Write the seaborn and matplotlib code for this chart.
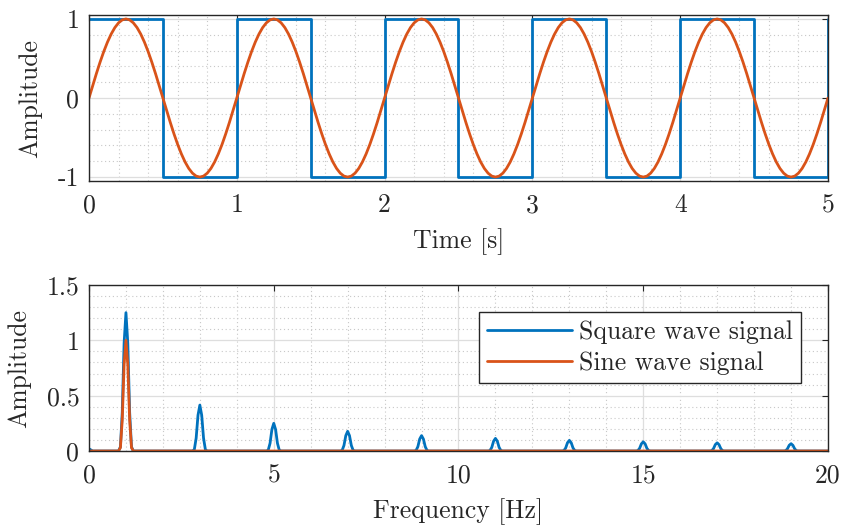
import numpy as np
import pandas as pd
import matplotlib
matplotlib.use("Agg")
import matplotlib.pyplot as plt
import seaborn as sns
from matplotlib.ticker import MultipleLocator

# ---------------- data ----------------
# square wave breakpoints (time in s, amplitude)
square_t = [0, 0.5, 0.5, 1, 1, 1.5, 1.5, 2, 2, 2.5, 2.5, 3, 3, 3.5, 3.5, 4, 4, 4.5, 4.5, 5, 5]
square_y = [1, 1, -1, -1, 1, 1, -1, -1, 1, 1, -1, -1, 1, 1, -1, -1, 1, 1, -1, -1, 1]

sample_step = 0.025
sine_period = [0.0, 0.156, 0.309, 0.454, 0.588, 0.707, 0.809, 0.891, 0.951, 0.988,
               1.0, 0.988, 0.951, 0.891, 0.809, 0.707, 0.588, 0.454, 0.309, 0.156,
               0.0, -0.156, -0.309, -0.454, -0.588, -0.707, -0.809, -0.891, -0.951, -0.988,
               -1.0, -0.988, -0.951, -0.891, -0.809, -0.707, -0.588, -0.454, -0.309, -0.156]
n_periods = 5

# spectrum peaks
peak_freqs = [1, 3, 5, 7, 9, 11, 13, 15, 17, 19]
square_amps = [1.25, 0.415, 0.25, 0.178, 0.139, 0.114, 0.096, 0.083, 0.074, 0.066]
sine_freqs = [1]
sine_amps = [1.0]
dc_bump = 0.02
# shape of one spectral peak (offset in Hz, relative height)
peak_offsets = [-0.2, -0.15, -0.1, -0.05, 0.0, 0.05, 0.1, 0.15, 0.2]
peak_shape = [0.0, 0.03, 0.28, 0.78, 1.0, 0.78, 0.28, 0.03, 0.0]

f_max = 20
time_ticks = [0, 1, 2, 3, 4, 5]
amp_ticks = [-1, 0, 1]
freq_ticks = [0, 5, 10, 15, 20]
spec_ticks = [0, 0.5, 1, 1.5]

blue = "#0072BD"
orange = "#D95319"

# ---------------- build series ----------------
sine_y = list(np.tile(sine_period, n_periods)) + [sine_period[0]]
sine_t = list(np.arange(len(sine_y)) * sample_step)

def spectrum(freqs, amps, dc=0.0):
    xs = [0.0, 0.05, 0.1]
    ys = [dc, dc * 0.5, 0.0]
    for f, a in zip(freqs, amps):
        for o, s in zip(peak_offsets, peak_shape):
            xs.append(f + o)
            ys.append(a * s)
    xs.append(f_max)
    ys.append(0.0)
    return xs, ys

sq_f, sq_a = spectrum(peak_freqs, square_amps, dc_bump)
si_f, si_a = spectrum(sine_freqs, sine_amps, 0.0)

df_time = pd.concat([
    pd.DataFrame({"t": square_t, "y": square_y, "s": "Square wave signal"}),
    pd.DataFrame({"t": sine_t, "y": sine_y, "s": "Sine wave signal"}),
])
df_freq = pd.concat([
    pd.DataFrame({"f": sq_f, "a": sq_a, "s": "Square wave signal"}),
    pd.DataFrame({"f": si_f, "a": si_a, "s": "Sine wave signal"}),
])

# ---------------- style ----------------
sns.set_style("white")
plt.rcParams["font.family"] = ["cmr10", "DejaVu Serif"]
plt.rcParams["axes.unicode_minus"] = False
plt.rcParams["mathtext.fontset"] = "cm"
FS = 18.5
LW = 2.0

fig = plt.figure(figsize=(8.41, 5.27), dpi=100)
ax1 = fig.add_axes([89 / 841, 1 - 181 / 527, 739 / 841, 166 / 527])
ax2 = fig.add_axes([89 / 841, 1 - 451 / 527, 739 / 841, 166 / 527])

palette = {"Square wave signal": blue, "Sine wave signal": orange}

sns.lineplot(data=df_time, x="t", y="y", hue="s", palette=palette, estimator=None,
             sort=False, units="s", linewidth=LW, ax=ax1, legend=False)
sns.lineplot(data=df_freq, x="f", y="a", hue="s", palette=palette, estimator=None,
             sort=False, units="s", linewidth=LW, ax=ax2, legend=True)


def style_axes(ax, xlim, ylim, xticks, yticks, xminor, yminor, xlabel, ylabel):
    ax.set_xlim(*xlim)
    ax.set_ylim(*ylim)
    ax.set_xticks(xticks)
    ax.set_yticks(yticks)
    ax.set_xticklabels([f"{v:g}" for v in xticks])
    ax.set_yticklabels([f"{v:g}" for v in yticks])
    ax.xaxis.set_minor_locator(MultipleLocator(xminor))
    ax.yaxis.set_minor_locator(MultipleLocator(yminor))
    ax.grid(True, which="major", color="#dedede", linewidth=0.9, linestyle="-")
    ax.grid(True, which="minor", color="#c8c8c8", linewidth=0.8, linestyle=(0, (1, 2.5)))
    ax.set_axisbelow(True)
    ax.tick_params(which="major", direction="in", length=4, width=0.8, color="#262626",
                   top=True, right=True, labelsize=FS, pad=9)
    ax.tick_params(which="minor", length=0, top=True, right=True)
    ax.tick_params(axis="y", pad=7)
    for sp in ax.spines.values():
        sp.set_color("#262626")
        sp.set_linewidth(1.0)
        sp.set_visible(True)
    ax.set_xlabel(xlabel, fontsize=FS, labelpad=8)
    ax.set_ylabel(ylabel, fontsize=FS, labelpad=11)


style_axes(ax1, (0, 5), (-1.05, 1.05), time_ticks, amp_ticks, 0.2, 0.2, "Time [s]", "Amplitude")
style_axes(ax2, (0, 20), (0, 1.5), freq_ticks, spec_ticks, 1, 0.1, "Frequency [Hz]", "Amplitude")

handles, labels = ax2.get_legend_handles_labels()
leg = ax2.legend(handles, labels, loc="upper right", bbox_to_anchor=(0.9635, 0.837),
                 borderaxespad=0, fontsize=FS, fancybox=False, framealpha=1,
                 edgecolor="#262626", handlelength=3.3, handletextpad=0.3,
                 borderpad=0.3, labelspacing=0.32)
leg.get_frame().set_linewidth(1.0)
for line in leg.get_lines():
    line.set_linewidth(LW)

fig.savefig("out.png", dpi=100)
